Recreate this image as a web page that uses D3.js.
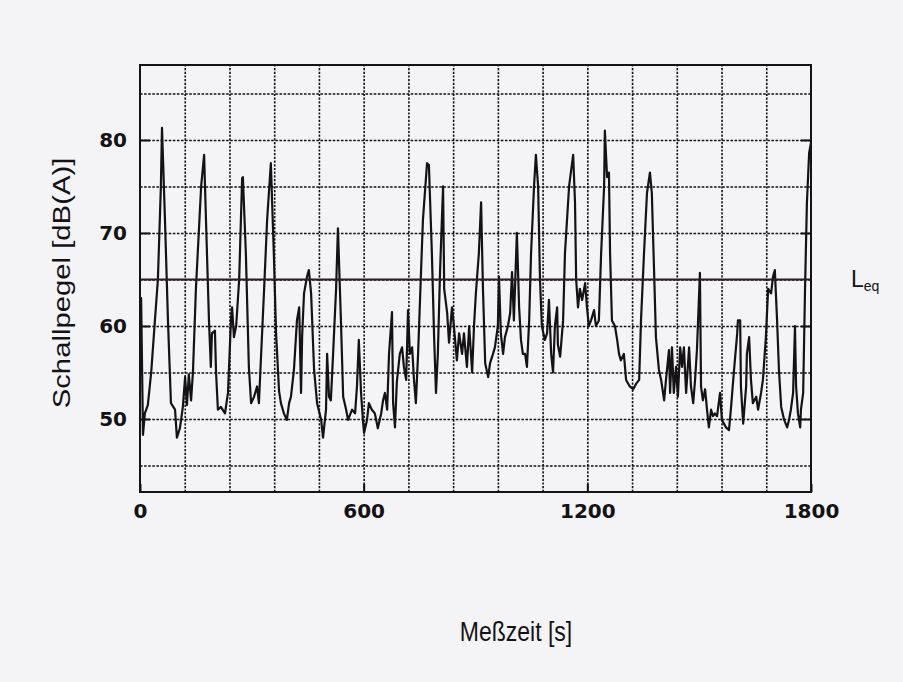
<!DOCTYPE html>
<html>
<head>
<meta charset="utf-8">
<script src="https://cdn.jsdelivr.net/npm/d3@7"></script>
<style>
  html, body { margin: 0; padding: 0; background: #f4f3f6; }
  svg { display: block; }
</style>
</head>
<body>
<svg id="chart" width="903" height="682"></svg>
<script>
// Measured A-weighted sound level over a 30 minute recording
const times = [
  0, 3, 8, 13, 21, 30, 40, 48, 56, 59, 67, 75, 83, 94, 99, 107, 115, 121, 126, 131,
  137, 142, 150, 164, 172, 177, 185, 190, 193, 201, 204, 209, 217, 228, 236, 244, 247, 252, 258, 266,
  274, 276, 284, 292, 298, 306, 314, 319, 325, 333, 341, 351, 359, 365, 373, 378, 386, 394, 400, 405,
  413, 421, 427, 432, 435, 440, 448, 453, 459, 467, 475, 486, 491, 499, 502, 507, 512, 518, 526, 531,
  539, 545, 553, 558, 569, 577, 582, 587, 593, 598, 601, 609, 614, 622, 630, 638, 647, 652, 657, 663,
  668, 676, 679, 684, 689, 697, 703, 708, 714, 719, 724, 730, 735, 740, 746, 754, 759, 770, 775, 783,
  789, 794, 799, 805, 813, 816, 824, 829, 837, 842, 850, 856, 864, 869, 877, 883, 891, 896, 901, 909,
  915, 920, 926, 934, 939, 947, 952, 960, 963, 968, 974, 979, 987, 993, 998, 1003, 1011, 1017, 1022, 1027,
  1033, 1038, 1044, 1049, 1057, 1062, 1068, 1073, 1078, 1086, 1092, 1097, 1103, 1108, 1113, 1119, 1121, 1127, 1135, 1140,
  1151, 1162, 1167, 1170, 1175, 1180, 1186, 1194, 1199, 1204, 1210, 1218, 1223, 1231, 1237, 1245, 1247, 1253, 1258, 1261,
  1266, 1274, 1280, 1285, 1290, 1298, 1304, 1314, 1323, 1331, 1339, 1344, 1352, 1360, 1368, 1373, 1379, 1384, 1392, 1398,
  1406, 1411, 1419, 1422, 1427, 1432, 1438, 1443, 1449, 1454, 1459, 1465, 1473, 1478, 1484, 1489, 1494, 1502, 1505, 1510,
  1516, 1521, 1526, 1532, 1537, 1542, 1548, 1556, 1561, 1572, 1580, 1585, 1593, 1602, 1604, 1610, 1612, 1618, 1626, 1628,
  1634, 1639, 1644, 1653, 1658, 1666, 1671, 1679, 1685, 1693, 1698, 1703, 1709, 1714, 1720, 1728, 1736, 1741, 1746, 1752,
  1757, 1760, 1765, 1771, 1773, 1779, 1784, 1789, 1795, 1800
];
const levels = [
  63.0, 63.0, 48.3, 50.6, 51.5, 55.0, 60.6, 65.0, 75.0, 81.3, 71.4, 60.6, 51.7, 51.0, 48.0, 49.0, 51.3, 54.5, 51.5, 54.8,
  52.0, 55.0, 64.0, 75.0, 78.4, 71.4, 60.6, 55.6, 59.2, 59.5, 55.0, 51.0, 51.3, 50.6, 52.8, 60.6, 62.0, 58.8, 60.0, 65.0,
  75.9, 76.0, 67.8, 55.6, 51.7, 52.4, 53.5, 51.7, 57.0, 64.0, 71.4, 77.5, 67.8, 59.2, 53.0, 51.7, 50.6, 49.9, 51.7, 52.4,
  55.3, 60.6, 62.0, 52.8, 59.0, 63.5, 65.3, 66.0, 63.5, 55.3, 51.7, 49.9, 48.0, 51.0, 57.0, 52.4, 52.0, 57.0, 64.0, 70.5,
  60.6, 52.4, 51.0, 49.9, 51.0, 50.6, 53.5, 58.5, 52.8, 49.9, 48.5, 49.9, 51.7, 51.0, 50.6, 49.0, 50.6, 52.0, 52.8, 51.0,
  57.0, 61.5, 51.7, 49.1, 54.0, 57.0, 57.7, 55.6, 54.2, 61.7, 57.0, 57.7, 54.2, 51.7, 57.0, 66.0, 71.4, 77.5, 77.3, 67.8,
  58.8, 52.8, 57.0, 66.0, 75.0, 64.0, 61.4, 58.2, 62.0, 60.0, 56.3, 59.2, 57.0, 59.2, 55.6, 60.0, 55.0, 60.0, 63.5, 67.8,
  73.3, 64.0, 56.0, 54.5, 56.0, 57.0, 57.7, 60.0, 65.3, 59.2, 57.0, 58.8, 60.0, 61.4, 65.8, 60.6, 70.0, 62.0, 58.5, 57.0,
  57.0, 55.6, 60.6, 67.8, 75.0, 78.4, 75.0, 65.0, 60.0, 58.5, 59.2, 62.8, 57.0, 55.0, 60.0, 62.0, 58.0, 56.7, 60.6, 67.8,
  75.0, 78.4, 73.2, 65.0, 62.0, 64.0, 62.8, 64.6, 62.0, 60.0, 60.6, 61.7, 60.0, 60.6, 67.8, 75.0, 81.0, 76.0, 76.5, 67.8,
  60.6, 60.0, 58.5, 57.0, 56.3, 57.0, 54.2, 53.5, 53.2, 53.8, 54.2, 60.6, 67.8, 74.3, 76.5, 74.3, 66.0, 58.8, 55.3, 54.2,
  52.0, 54.2, 57.4, 52.8, 57.7, 52.8, 55.6, 52.4, 57.7, 55.6, 57.7, 52.8, 57.7, 53.5, 51.7, 54.2, 57.4, 65.7, 53.5, 52.0,
  53.2, 51.0, 49.1, 51.0, 50.3, 50.6, 50.3, 52.8, 49.9, 49.1, 48.8, 51.0, 55.0, 59.2, 60.6, 60.6, 53.5, 49.5, 53.5, 57.0,
  58.8, 54.2, 51.7, 52.4, 51.0, 52.8, 54.2, 58.8, 64.0, 63.5, 65.3, 66.0, 60.6, 55.3, 51.3, 49.9, 49.1, 49.9, 51.0, 52.8,
  60.0, 53.5, 50.6, 49.1, 51.0, 52.8, 64.0, 73.2, 78.6, 79.7
];
const leq = 65;
const yTickValues = [50, 60, 70, 80];
const xTickValues = [0, 600, 1200, 1800];
const yGridValues = [45, 50, 55, 60, 65, 70, 75, 80, 85];
const xGridValues = [120, 240, 360, 480, 600, 720, 840, 960, 1080, 1200, 1320, 1440, 1560, 1680];
const xTitle = "Meßzeit [s]";
const yTitle = "Schallpegel [dB(A)]";

const ink = "#141214";
const margin = { left: 140, right: 92, top: 65, bottom: 190 };
const W = 903, H = 682;
const iw = W - margin.left - margin.right;
const ih = H - margin.top - margin.bottom;

const svg = d3.select("#chart");
svg.append("rect").attr("width", W).attr("height", H).attr("fill", "#f4f3f6");

const g = svg.append("g").attr("transform", `translate(${margin.left},${margin.top})`);

const x = d3.scaleLinear().domain([0, 1800]).range([0, iw]);
const y = d3.scaleLinear().domain([42.15, 88.06]).range([ih, 0]);

// dotted grid
const gx = g.append("g").attr("transform", `translate(0,${ih})`)
  .call(d3.axisBottom(x).tickValues(xGridValues).tickSize(-ih).tickFormat(""));
gx.select(".domain").remove();
gx.selectAll("line").attr("stroke", ink).attr("stroke-width", 1.6).attr("stroke-dasharray", "2.2,1.5");

const gy = g.append("g")
  .call(d3.axisLeft(y).tickValues(yGridValues).tickSize(-iw).tickFormat(""));
gy.select(".domain").remove();
gy.selectAll("line").attr("stroke", ink).attr("stroke-width", 1.6).attr("stroke-dasharray", "2.6,1.5");

// level trace
const pts = times.map((t, i) => [t, levels[i]]);
g.append("path")
  .datum(pts)
  .attr("fill", "none")
  .attr("stroke", ink)
  .attr("stroke-width", 2.2)
  .attr("stroke-linejoin", "round")
  .attr("d", d3.line().x(d => x(d[0])).y(d => y(d[1])));

// equivalent continuous level
g.append("line")
  .attr("x1", 0).attr("x2", iw)
  .attr("y1", y(leq)).attr("y2", y(leq))
  .attr("stroke", "#2a2022").attr("stroke-width", 2);

// frame
g.append("rect").attr("width", iw).attr("height", ih)
  .attr("fill", "none").attr("stroke", ink).attr("stroke-width", 2);

// y axis labels with inward ticks
const ya = g.append("g")
  .call(d3.axisLeft(y).tickValues(yTickValues).tickSize(-10).tickPadding(13).tickFormat(d3.format("d")));
ya.select(".domain").remove();
ya.selectAll("line").attr("stroke", ink).attr("stroke-width", 2);
ya.selectAll("text").attr("fill", ink)
  .style("font-family", "'DejaVu Sans', sans-serif").style("font-weight", "bold").style("font-size", "20px");

const yr = g.append("g").attr("transform", `translate(${iw},0)`)
  .call(d3.axisRight(y).tickValues(yTickValues).tickSize(-10).tickFormat(""));
yr.select(".domain").remove();
yr.selectAll("line").attr("stroke", ink).attr("stroke-width", 2);

// x axis labels
const xa = g.append("g").attr("transform", `translate(0,${ih})`)
  .call(d3.axisBottom(x).tickValues(xTickValues).tickSize(-8).tickPadding(12).tickFormat(d3.format("d")));
xa.select(".domain").remove();
xa.selectAll("line").attr("stroke", ink).attr("stroke-width", 2);
xa.selectAll("text").attr("fill", ink)
  .style("font-family", "'DejaVu Sans', sans-serif").style("font-weight", "bold").style("font-size", "20px");

// axis titles
svg.append("text")
  .attr("transform", `translate(516,641) scale(1,1.17)`)
  .attr("text-anchor", "middle")
  .attr("fill", ink)
  .style("font-family", "'Liberation Sans', Arial, sans-serif").style("font-size", "23px")
  .text(xTitle);

svg.append("text")
  .attr("transform", `translate(70,283) scale(1,1.22) rotate(-90)`)
  .attr("text-anchor", "middle")
  .attr("fill", ink)
  .style("font-family", "'Liberation Sans', Arial, sans-serif").style("font-size", "24px")
  .text(yTitle);

// Leq label
const lq = svg.append("text")
  .attr("x", 851).attr("y", 287)
  .attr("fill", ink)
  .style("font-family", "'Liberation Sans', Arial, sans-serif").style("font-size", "23px");
lq.append("tspan").text("L");
lq.append("tspan").attr("dy", 4).style("font-size", "14px").text("eq");
</script>
</body>
</html>
